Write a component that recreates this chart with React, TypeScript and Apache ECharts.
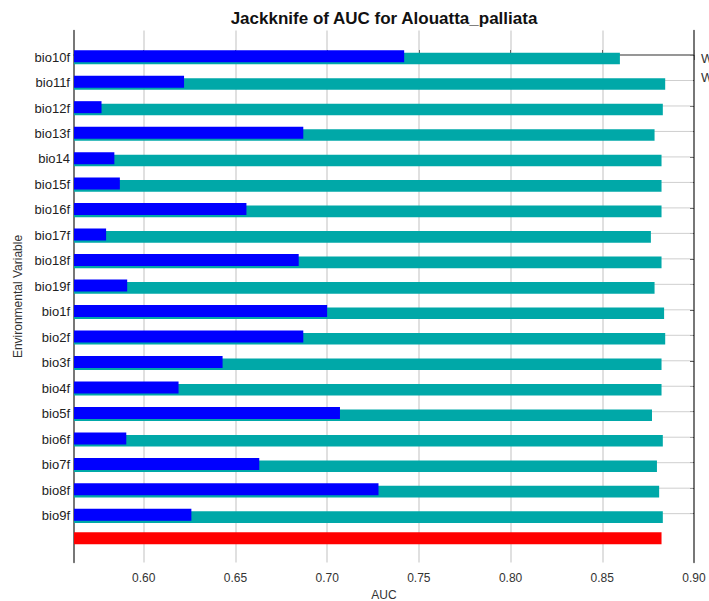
import React, { useEffect, useRef } from "react";
import * as echarts from "echarts";

const categories = [
  "bio10f", "bio11f", "bio12f", "bio13f", "bio14", "bio15f", "bio16f", "bio17f", "bio18f", "bio19f",
  "bio1f", "bio2f", "bio3f", "bio4f", "bio5f", "bio6f", "bio7f", "bio8f", "bio9f",
];
// "With only variable" AUC (blue)
const withOnly = [
  0.742, 0.622, 0.577, 0.687, 0.584, 0.587, 0.656, 0.5795, 0.6845, 0.591,
  0.700, 0.687, 0.643, 0.619, 0.707, 0.5905, 0.663, 0.728, 0.626,
];
// "Without variable" AUC (teal)
const without = [
  0.8596, 0.8843, 0.883, 0.8785, 0.8823, 0.8823, 0.8823, 0.8765, 0.8823, 0.8785,
  0.8837, 0.8843, 0.8823, 0.8823, 0.8771, 0.883, 0.8798, 0.881, 0.883,
];
// "With all variables" AUC (red)
const withAll = [0.8823];
const xTicks = [0.6, 0.65, 0.7, 0.75, 0.8, 0.85, 0.9];

const X_MIN = 0.562;
const X_MAX = 0.9;
const FONT = "'Liberation Sans', Arial, sans-serif";
const BLUE = "#0000ff";
const TEAL = "#00a8a8";
const RED = "#ff0000";

export default function App() {
  const ref = useRef<HTMLDivElement>(null);
  useEffect(() => {
    if (!ref.current) return;
    const chart = echarts.init(ref.current, null, { renderer: "svg" });
    const idxs = categories.map((_, i) => i);
    const labelPos = idxs.map((i) => i + 0.08);
    const varData = categories.map((_, i) => [i, withOnly[i], without[i]]);
    const allData = withAll.map((v) => [categories.length, v]);

    const option: any = {
      animation: false,
      backgroundColor: "#ffffff",
      textStyle: { fontFamily: FONT },
      grid: {
        left: 74,
        right: 15,
        top: 30.5,
        bottom: 38.5,
        containLabel: false,
        outerBoundsMode: "none",
      },
      xAxis: [
        {
          type: "value",
          position: "bottom",
          min: X_MIN,
          max: X_MAX,
          minInterval: 0.05,
          maxInterval: 0.05,
          name: "AUC",
          nameLocation: "middle",
          nameGap: 26,
          nameTextStyle: { fontFamily: FONT, fontSize: 12, color: "#333" },
          axisLine: { show: true, lineStyle: { color: "#555", width: 1.5 } },
          axisTick: { show: true, inside: true, length: 5, lineStyle: { color: "#666" } },
          axisLabel: {
            showMinLabel: false,
            margin: 9,
            fontFamily: FONT,
            fontSize: 12,
            color: "#333",
            formatter: (v: number) => (xTicks.some((t) => Math.abs(t - v) < 1e-6) ? v.toFixed(2) : ""),
          },
          splitLine: { show: true, lineStyle: { color: "#d6d6d6", width: 1.5 } },
        },
        {
          type: "value",
          position: "top",
          min: X_MIN,
          max: X_MAX,
          minInterval: 0.05,
          maxInterval: 0.05,
          axisLine: { show: true, lineStyle: { color: "#555", width: 1.5 } },
          axisTick: { show: true, inside: true, length: 5, lineStyle: { color: "#444" } },
          axisLabel: { show: false },
          splitLine: { show: false },
        },
      ],
      yAxis: [
        {
          type: "value",
          position: "left",
          inverse: true,
          min: -0.962,
          max: 19.917,
          name: "Environmental Variable",
          nameLocation: "middle",
          nameGap: 50,
          nameTextStyle: { fontFamily: FONT, fontSize: 12, color: "#333" },
          axisLine: { show: true, lineStyle: { color: "#555", width: 1.5 } },
          axisTick: { show: false },
          axisLabel: {
            customValues: labelPos,
            margin: 4,
            fontFamily: FONT,
            fontSize: 13,
            color: "#222",
            formatter: (v: number) => categories[Math.round(v)] ?? "",
          },
          splitLine: { show: false },
        },
        {
          type: "value",
          position: "right",
          inverse: true,
          min: -0.962,
          max: 19.917,
          axisLine: { show: true, lineStyle: { color: "#555", width: 1.5 } },
          axisTick: { show: true, inside: true, length: 4, customValues: idxs, lineStyle: { color: "#333" } },
          axisLabel: { show: false },
          splitLine: { show: false },
        },
      ],
      series: [
        {
          name: "Variables",
          type: "custom",
          xAxisIndex: 0,
          yAxisIndex: 0,
          data: varData,
          encode: { x: [1, 2], y: 0 },
          renderItem: (params: any, api: any) => {
            const idx = api.value(0);
            const cs = params.coordSys;
            const x0 = cs.x;
            const y = api.coord([X_MIN, idx])[1];
            const xb = api.coord([api.value(1), idx])[0];
            const xt = api.coord([api.value(2), idx])[0];
            return {
              type: "group",
              children: [
                {
                  type: "line",
                  shape: { x1: x0, y1: y, x2: cs.x + cs.width - 1, y2: y },
                  style: { stroke: "#cfcfcf", lineWidth: 1 },
                },
                { type: "rect", shape: { x: x0, y: y - 2.3, width: xt - x0, height: 11.6 }, style: { fill: TEAL } },
                { type: "rect", shape: { x: x0, y: y - 4.8, width: xb - x0, height: 12 }, style: { fill: BLUE } },
              ],
            };
          },
        },
        {
          name: "With all variables",
          type: "custom",
          xAxisIndex: 0,
          yAxisIndex: 0,
          data: allData,
          encode: { x: 1, y: 0 },
          renderItem: (params: any, api: any) => {
            const idx = api.value(0);
            const cs = params.coordSys;
            const x0 = cs.x;
            const y = api.coord([X_MIN, idx])[1];
            const xr = api.coord([api.value(1), idx])[0];
            return { type: "rect", shape: { x: x0, y: y - 7, width: xr - x0, height: 12 }, style: { fill: RED } };
          },
        },
      ],
      graphic: [
        {
          type: "text",
          x: 384,
          y: 18,
          style: {
            text: "Jackknife of AUC for Alouatta_palliata",
            fontFamily: FONT,
            fontSize: 17,
            fontWeight: "bold",
            fill: "#111",
            align: "center",
            verticalAlign: "middle",
          },
        },
        {
          type: "text",
          x: 701,
          y: 58,
          style: { text: "Without variable", fontFamily: FONT, fontSize: 13, fill: "#333", verticalAlign: "middle" },
        },
        {
          type: "text",
          x: 701,
          y: 77,
          style: { text: "With only variable", fontFamily: FONT, fontSize: 13, fill: "#333", verticalAlign: "middle" },
        },
      ],
    };
    chart.setOption(option);
    return () => chart.dispose();
  }, []);
  return (
    <div
      ref={ref}
      style={{ position: "absolute", left: 0, top: 0, width: 709, height: 601, overflow: "hidden" }}
    />
  );
}
